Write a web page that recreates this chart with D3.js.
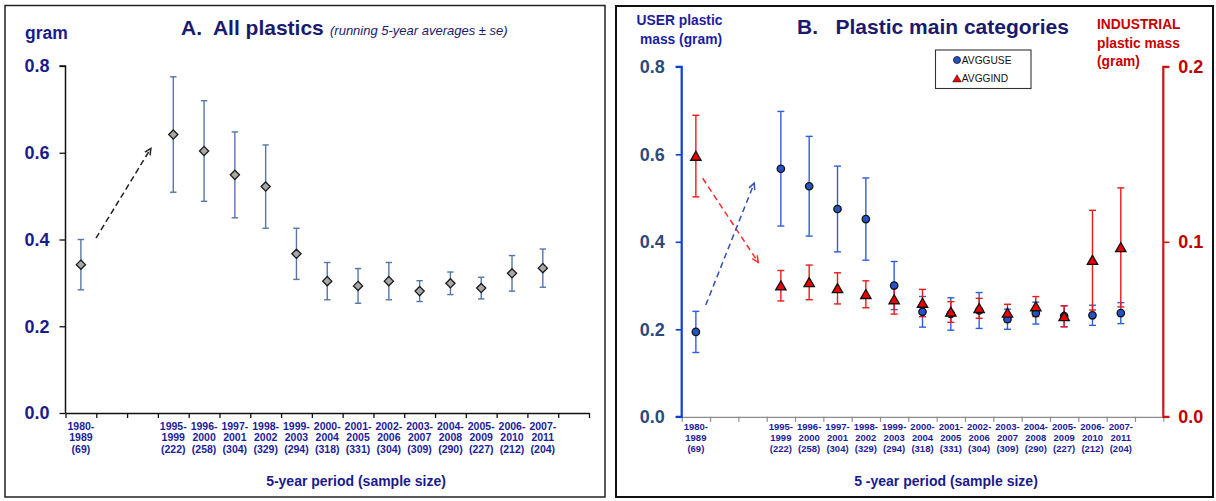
<!DOCTYPE html>
<html>
<head>
<meta charset="utf-8">
<script src="https://cdn.jsdelivr.net/npm/d3@7"></script>
<style>
  html, body { margin: 0; padding: 0; background: #fff; }
  svg { display: block; font-family: "Liberation Sans", Arial, sans-serif; }
</style>
</head>
<body>
<svg id="chart" width="1216" height="501"></svg>
<script>
// Five-year periods (slots with null are empty gaps on the axis)
const periods = ["1980-1989", null, null, "1995-1999", "1996-2000", "1997-2001", "1998-2002",
  "1999-2003", "2000-2004", "2001-2005", "2002-2006", "2003-2007", "2004-2008",
  "2005-2009", "2006-2010", "2007-2011", null];
const sampleSizes = [69, null, null, 222, 258, 304, 329, 294, 318, 331, 304, 309, 290, 227, 212, 204, null];

// A. All plastics: running 5-year mean mass (gram) and standard error
const allMean = [0.342, null, null, 0.642, 0.604, 0.549, 0.522, 0.367, 0.304, 0.293, 0.304, 0.281, 0.299, 0.288, 0.322, 0.334, null];
const allSe   = [0.058, null, null, 0.133, 0.116, 0.099, 0.096, 0.059, 0.043, 0.040, 0.043, 0.024, 0.026, 0.025, 0.041, 0.044, null];

// B. User plastics (left axis) and industrial plastics (right axis)
const useMean = [0.194, null, null, 0.567, 0.527, 0.475, 0.452, 0.300, 0.240, 0.235, 0.243, 0.223, 0.237, 0.230, 0.232, 0.237, null];
const useSe   = [0.047, null, null, 0.131, 0.114, 0.098, 0.094, 0.055, 0.035, 0.037, 0.041, 0.023, 0.025, 0.024, 0.023, 0.024, null];
const indMean = [0.149, null, null, 0.0749, 0.0768, 0.0734, 0.0700, 0.0670, 0.0650, 0.0599, 0.0620, 0.0593, 0.0630, 0.0574, 0.0895, 0.0968, null];
const indSe   = [0.0233, null, null, 0.0087, 0.0099, 0.0089, 0.0077, 0.0083, 0.0078, 0.0059, 0.0057, 0.0050, 0.0057, 0.0060, 0.0285, 0.0340, null];

// Axis ticks
const leftTicks = [0, 0.2, 0.4, 0.6, 0.8];
const rightTicks = [0, 0.1, 0.2];

// Trend arrows, in axis units: [slotStart, valueStart, slotEnd, valueEnd]
const arrowAll = [0.99, 0.403, 2.77, 0.610];
const arrowUse = [0.85, 0.2555, 2.56, 0.534];
const arrowInd = [0.74, 0.1363, 2.70, 0.0883];

const svg = d3.select("#chart");
const FONT = "'Liberation Sans', Arial, sans-serif";
const nSlots = periods.length;

// Panel frames
svg.append("rect").attr("x", 5).attr("y", 5.5).attr("width", 600).attr("height", 491.5)
  .attr("fill", "none").attr("stroke", "#222").attr("stroke-width", 1.5);
svg.append("rect").attr("x", 616).attr("y", 6).attr("width", 597).attr("height", 491)
  .attr("fill", "none").attr("stroke", "#111").attr("stroke-width", 2);

function errorBars(g, x, y, mean, se, color, cap, width) {
  const idx = d3.range(nSlots).filter(i => mean[i] != null);
  const eg = g.append("g").attr("stroke", color).attr("stroke-width", width).attr("fill", "none");
  idx.forEach(i => {
    const cx = x(i + 0.5), y1 = y(mean[i] + se[i]), y0 = y(mean[i] - se[i]);
    eg.append("line").attr("x1", cx).attr("x2", cx).attr("y1", y1).attr("y2", y0);
    eg.append("line").attr("x1", cx - cap).attr("x2", cx + cap).attr("y1", y1).attr("y2", y1);
    eg.append("line").attr("x1", cx - cap).attr("x2", cx + cap).attr("y1", y0).attr("y2", y0);
  });
  return idx;
}

function arrow(g, x, y, a, color, dash) {
  const x1 = x(a[0]), y1 = y(a[1]), x2 = x(a[2]), y2 = y(a[3]);
  g.append("line").attr("x1", x1).attr("y1", y1).attr("x2", x2).attr("y2", y2)
    .attr("stroke", color).attr("stroke-width", 1.5).attr("stroke-dasharray", dash);
  const ang = Math.atan2(y2 - y1, x2 - x1), L = 7, spread = 0.45;
  const p = [
    [x2 - L * Math.cos(ang - spread), y2 - L * Math.sin(ang - spread)],
    [x2, y2],
    [x2 - L * Math.cos(ang + spread), y2 - L * Math.sin(ang + spread)]
  ];
  g.append("path").attr("d", d3.line()(p)).attr("fill", "none")
    .attr("stroke", color).attr("stroke-width", 1.5);
}

function periodLabels(g, x, yTop, size, lineGap, color) {
  d3.range(nSlots).forEach(i => {
    if (periods[i] == null) return;
    const [a, b] = periods[i].split("-");
    const t = g.append("text").attr("text-anchor", "middle").attr("fill", color)
      .attr("font-size", size).attr("font-weight", "bold").attr("font-family", FONT);
    const cx = x(i + 0.5);
    t.append("tspan").attr("x", cx).attr("y", yTop).text(a + "-");
    t.append("tspan").attr("x", cx).attr("y", yTop + lineGap).text(b);
    t.append("tspan").attr("x", cx).attr("y", yTop + 2 * lineGap).text("(" + sampleSizes[i] + ")");
  });
}

// ---------- Panel A ----------
{
  const g = svg.append("g");
  const x = d3.scaleLinear().domain([0, nSlots]).range([65.5, 589]);
  const y = d3.scaleLinear().domain([0, 0.8]).range([413, 66]);

  const yAxis = g.append("g").attr("transform", "translate(65.5,0)")
    .call(d3.axisLeft(y).tickValues(leftTicks).tickFormat(d3.format(".1f")).tickSize(6).tickPadding(10));
  yAxis.select(".domain").attr("stroke", "#111").attr("stroke-width", 1.5).attr("d", "M-6,66H0V413");
  yAxis.selectAll(".tick line").attr("stroke", "#111").attr("stroke-width", 1.3);
  yAxis.selectAll(".tick text").attr("fill", "#1b1b8c").attr("font-size", 18)
    .attr("font-weight", "bold").attr("font-family", FONT);

  const xAxis = g.append("g").attr("transform", "translate(0,413)")
    .call(d3.axisBottom(x).tickValues(d3.range(0, nSlots + 1)).tickFormat("").tickSize(5).tickSizeOuter(0));
  xAxis.select(".domain").attr("stroke", "#111").attr("stroke-width", 1.5);
  xAxis.selectAll(".tick line").attr("stroke", "#111").attr("stroke-width", 1.3);

  periodLabels(g, x, 429.5, 10.5, 11.7, "#1c1c9a");

  const idx = errorBars(g, x, y, allMean, allSe, "#5676a6", 3.2, 1.4);
  const diamond = "M0,-4.6L4.6,0L0,4.6L-4.6,0Z";
  g.selectAll(".dia").data(idx).join("path")
    .attr("d", diamond)
    .attr("transform", i => `translate(${x(i + 0.5)},${y(allMean[i])})`)
    .attr("fill", "#a8a8a8").attr("stroke", "#1a1a1a").attr("stroke-width", 1.3);

  arrow(g, x, y, arrowAll, "#222", "6,3.5");

  g.append("text").attr("x", 25).attr("y", 39).attr("fill", "#1b1b8c")
    .attr("font-size", 17.5).attr("font-weight", "bold").text("gram");
  g.append("text").attr("x", 181).attr("y", 35).attr("fill", "#1a1a6e")
    .attr("font-size", 21).attr("font-weight", "bold").attr("xml:space", "preserve")
    .style("white-space", "pre").text("A.  All plastics");
  g.append("text").attr("x", 330).attr("y", 35).attr("fill", "#1a1a6e")
    .attr("font-size", 13).attr("font-style", "italic").text("(running 5-year averages \u00b1 se)");
  g.append("text").attr("x", 356).attr("y", 486).attr("text-anchor", "middle").attr("fill", "#1a1a8c")
    .attr("font-size", 14).attr("font-weight", "bold").text("5-year period (sample size)");
}

// ---------- Panel B ----------
{
  const g = svg.append("g");
  const x = d3.scaleLinear().domain([0, nSlots]).range([681.7, 1163.3]);
  const yU = d3.scaleLinear().domain([0, 0.8]).range([416.8, 66.8]);
  const yI = d3.scaleLinear().domain([0, 0.2]).range([416.8, 66.8]);

  const xAxis = g.append("g").attr("transform", "translate(0,416.8)")
    .call(d3.axisBottom(x).tickValues(d3.range(0, nSlots + 1)).tickFormat("").tickSize(5).tickSizeOuter(0));
  xAxis.select(".domain").attr("stroke", "#8c8c8c").attr("stroke-width", 1.2);
  xAxis.selectAll(".tick line").attr("stroke", "#8c8c8c").attr("stroke-width", 1.2);

  const yAxisL = g.append("g").attr("transform", "translate(681.7,0)")
    .call(d3.axisLeft(yU).tickValues(leftTicks).tickFormat(d3.format(".1f")).tickSize(6).tickPadding(11));
  yAxisL.select(".domain").attr("stroke", "#0b3fd8").attr("stroke-width", 2.2).attr("d", "M-6,66.8H0V416.8H-6");
  yAxisL.selectAll(".tick line").attr("stroke", "#0b3fd8").attr("stroke-width", 1.6);
  yAxisL.selectAll(".tick text").attr("fill", "#2c4a7c").attr("font-size", 18)
    .attr("font-weight", "bold").attr("font-family", FONT);

  const yAxisR = g.append("g").attr("transform", "translate(1163.3,0)")
    .call(d3.axisRight(yI).tickValues(rightTicks).tickFormat(d3.format(".1f")).tickSize(6).tickPadding(9));
  yAxisR.select(".domain").attr("stroke", "#cc1414").attr("stroke-width", 2.2).attr("d", "M6,66.8H0V416.8H6");
  yAxisR.selectAll(".tick line").attr("stroke", "#cc1414").attr("stroke-width", 1.6);
  yAxisR.selectAll(".tick text").attr("fill", "#c00000").attr("font-size", 18)
    .attr("font-weight", "bold").attr("font-family", FONT);

  periodLabels(g, x, 430, 9.5, 11.2, "#1c1c9a");

  const idxU = errorBars(g, x, yU, useMean, useSe, "#2d5ee0", 3.5, 1.4);
  const idxI = errorBars(g, x, yI, indMean, indSe, "#f01818", 3.5, 1.4);

  const tri = "M0,-4.8L5.2,4.2L-5.2,4.2Z";
  g.selectAll(".use").data(idxU).join("circle")
    .attr("cx", i => x(i + 0.5)).attr("cy", i => yU(useMean[i])).attr("r", 3.7)
    .attr("fill", "#2353c6").attr("stroke", "#111").attr("stroke-width", 1.3);
  g.selectAll(".ind").data(idxI).join("path")
    .attr("d", tri)
    .attr("transform", i => `translate(${x(i + 0.5)},${yI(indMean[i])})`)
    .attr("fill", "#ee0000").attr("stroke", "#111").attr("stroke-width", 1.3);

  arrow(g, x, yI, arrowInd, "#ff2a2a", "6,4");
  arrow(g, x, yU, arrowUse, "#2f52b4", "6,4");

  // Legend
  const lg = g.append("g");
  lg.append("rect").attr("x", 935.5).attr("y", 50).attr("width", 95.5).attr("height", 38.5)
    .attr("fill", "#fff").attr("stroke", "#333").attr("stroke-width", 1.1);
  lg.append("circle").attr("cx", 957).attr("cy", 60).attr("r", 3.5)
    .attr("fill", "#2353c6").attr("stroke", "#111").attr("stroke-width", 0.8);
  lg.append("path").attr("d", "M0,-3.8L4.3,3.4L-4.3,3.4Z").attr("transform", "translate(957,78.5)")
    .attr("fill", "#ee0000").attr("stroke", "#222").attr("stroke-width", 0.6);
  lg.append("text").attr("x", 961.8).attr("y", 63.8).attr("font-size", 10.2).attr("fill", "#111").text("AVGGUSE");
  lg.append("text").attr("x", 961.8).attr("y", 82.2).attr("font-size", 10.2).attr("fill", "#111").text("AVGGIND");

  // Headings
  g.append("text").attr("x", 797).attr("y", 34).attr("fill", "#1a1a6e")
    .attr("font-size", 21).attr("font-weight", "bold").attr("xml:space", "preserve")
    .style("white-space", "pre").text("B.   Plastic main categories");
  const ul = g.append("text").attr("text-anchor", "middle").attr("fill", "#1c1ca0")
    .attr("font-size", 13.8).attr("font-weight", "bold");
  ul.append("tspan").attr("x", 679.5).attr("y", 25).text("USER plastic");
  ul.append("tspan").attr("x", 681).attr("y", 44).text("mass (gram)");
  const rl = g.append("text").attr("fill", "#c80000").attr("font-size", 13.8).attr("font-weight", "bold");
  rl.append("tspan").attr("x", 1097).attr("y", 29).text("INDUSTRIAL");
  rl.append("tspan").attr("x", 1097).attr("y", 47.5).text("plastic mass");
  rl.append("tspan").attr("x", 1097).attr("y", 66).text("(gram)");

  g.append("text").attr("x", 946).attr("y", 486).attr("text-anchor", "middle").attr("fill", "#1a1a8c")
    .attr("font-size", 14).attr("font-weight", "bold").text("5 -year period (sample size)");
}
</script>
</body>
</html>
